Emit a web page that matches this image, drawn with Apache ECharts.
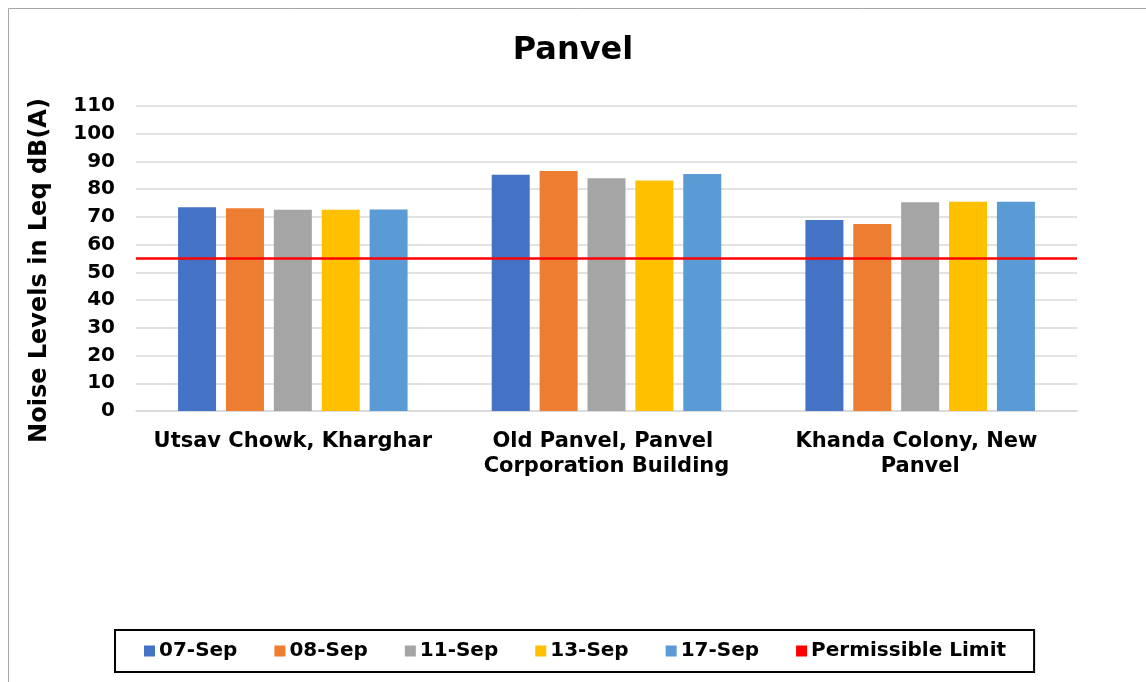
<!DOCTYPE html>
<html>
<head>
<meta charset="utf-8">
<title>Panvel</title>
<script src="https://cdn.jsdelivr.net/npm/echarts@6/dist/echarts.min.js"></script>
<style>
  html, body { margin: 0; padding: 0; background: #fff; }
  #chart { width: 1146px; height: 682px; }
</style>
</head>
<body>
<div id="chart"></div>
<script>
// data
var sites = ["Utsav Chowk, Kharghar", "Old Panvel, Panvel Corporation Building", "Khanda Colony, New Panvel"];
var dates = ["07-Sep", "08-Sep", "11-Sep", "13-Sep", "17-Sep"];
var sep07 = [73.5, 85.2, 68.9];
var sep08 = [73.1, 86.6, 67.4];
var sep11 = [72.6, 83.9, 75.3];
var sep13 = [72.6, 83.1, 75.5];
var sep17 = [72.7, 85.5, 75.5];
var limitName = "Permissible Limit";
var limitValues = [55, 55, 55];
var yTicks = { min: 0, max: 110, interval: 10 };

var colors = ["#4472C4", "#ED7D31", "#A5A5A5", "#FFC000", "#5B9BD5"];
var font = "DejaVu Sans";

var values = [sep07, sep08, sep11, sep13, sep17];
var series = dates.map(function (d, i) {
  return {
    name: d,
    type: "bar",
    data: values[i],
    barWidth: 38,
    barGap: "26%",
    itemStyle: { color: colors[i] },
    z: 2
  };
});
series.push({
  name: limitName,
  type: "line",
  xAxisIndex: 1,
  data: limitValues,
  symbol: "none",
  lineStyle: { color: "#FF0000", width: 2.5 },
  itemStyle: { color: "#FF0000" },
  z: 5
});

var chart = echarts.init(document.getElementById("chart"));
chart.setOption({
  animation: false,
  textStyle: { fontFamily: font },
  graphic: [{
    type: "rect",
    shape: { x: 8.5, y: 8.5, width: 1200, height: 800 },
    style: { fill: "none", stroke: "#a6a6a6", lineWidth: 1 },
    silent: true
  }],
  title: {
    text: "Panvel",
    left: "center",
    top: 30,
    textStyle: { fontFamily: font, fontWeight: "bold", fontSize: 32, color: "#000" }
  },
  legend: {
    data: dates.concat([limitName]),
    left: 115,
    top: 630,
    icon: "rect",
    itemWidth: 11,
    itemHeight: 11,
    itemGap: 37,
    padding: [11, 28, 11, 29],
    borderColor: "#000",
    borderWidth: 2,
    textStyle: { fontFamily: font, fontWeight: "bold", fontSize: 20, color: "#000", padding: [0, 0, 0, -1] }
  },
  grid: { left: 136, right: 69, top: 106, bottom: 271 },
  xAxis: [{
    type: "category",
    data: sites,
    axisTick: { show: false },
    axisLine: { lineStyle: { color: "#d9d9d9", width: 1.5 } },
    axisLabel: {
      interval: 0,
      margin: 18,
      width: 292,
      overflow: "break",
      lineHeight: 25,
      fontFamily: font,
      fontWeight: "bold",
      fontSize: 21,
      color: "#000"
    }
  }, {
    type: "category",
    data: sites,
    show: false,
    boundaryGap: false
  }],
  yAxis: {
    type: "value",
    min: yTicks.min,
    max: yTicks.max,
    interval: yTicks.interval,
    name: "Noise Levels in Leq dB(A)",
    nameLocation: "middle",
    nameRotate: 90,
    nameGap: 84,
    nameTextStyle: { fontFamily: font, fontWeight: "bold", fontSize: 24, color: "#000", padding: [0, 24, 0, 0] },
    axisLine: { show: false },
    axisTick: { show: false },
    axisLabel: { margin: 21, fontFamily: font, fontWeight: "bold", fontSize: 20, color: "#000" },
    splitLine: { lineStyle: { color: "#d9d9d9", width: 1.5 } }
  },
  series: series
});
</script>
</body>
</html>
